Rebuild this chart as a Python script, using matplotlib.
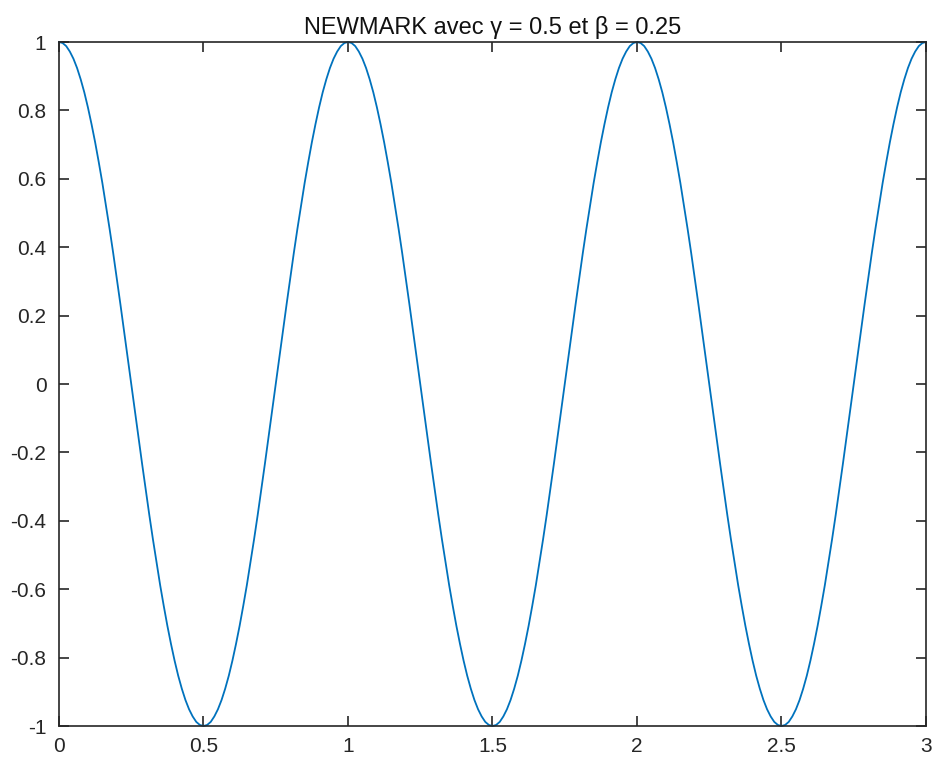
import matplotlib
matplotlib.use("Agg")
import matplotlib.pyplot as plt
import numpy as np

plt.rcParams['font.family'] = ['Liberation Sans', 'DejaVu Sans']

dt = 0.0125
u = [
    1.000, 0.997, 0.988, 0.972, 0.951, 0.924, 0.891, 0.853, 0.809, 0.760,
    0.707, 0.649, 0.588, 0.522, 0.454, 0.383, 0.309, 0.233, 0.156, 0.078,
    0.000, -0.078, -0.156, -0.233, -0.309, -0.383, -0.454, -0.522, -0.588, -0.649,
    -0.707, -0.760, -0.809, -0.853, -0.891, -0.924, -0.951, -0.972, -0.988, -0.997,
    -1.000, -0.997, -0.988, -0.972, -0.951, -0.924, -0.891, -0.853, -0.809, -0.760,
    -0.707, -0.649, -0.588, -0.522, -0.454, -0.383, -0.309, -0.233, -0.156, -0.078,
    0.000, 0.078, 0.156, 0.233, 0.309, 0.383, 0.454, 0.522, 0.588, 0.649,
    0.707, 0.760, 0.809, 0.853, 0.891, 0.924, 0.951, 0.972, 0.988, 0.997,
    1.000, 0.997, 0.988, 0.972, 0.951, 0.924, 0.891, 0.853, 0.809, 0.760,
    0.707, 0.649, 0.588, 0.522, 0.454, 0.383, 0.309, 0.233, 0.156, 0.078,
    0.000, -0.078, -0.156, -0.233, -0.309, -0.383, -0.454, -0.522, -0.588, -0.649,
    -0.707, -0.760, -0.809, -0.853, -0.891, -0.924, -0.951, -0.972, -0.988, -0.997,
    -1.000, -0.997, -0.988, -0.972, -0.951, -0.924, -0.891, -0.853, -0.809, -0.760,
    -0.707, -0.649, -0.588, -0.522, -0.454, -0.383, -0.309, -0.233, -0.156, -0.078,
    0.000, 0.078, 0.156, 0.233, 0.309, 0.383, 0.454, 0.522, 0.588, 0.649,
    0.707, 0.760, 0.809, 0.853, 0.891, 0.924, 0.951, 0.972, 0.988, 0.997,
    1.000, 0.997, 0.988, 0.972, 0.951, 0.924, 0.891, 0.853, 0.809, 0.760,
    0.707, 0.649, 0.588, 0.522, 0.454, 0.383, 0.309, 0.233, 0.156, 0.078,
    0.000, -0.078, -0.156, -0.233, -0.309, -0.383, -0.454, -0.522, -0.588, -0.649,
    -0.707, -0.760, -0.809, -0.853, -0.891, -0.924, -0.951, -0.972, -0.988, -0.997,
    -1.000, -0.997, -0.988, -0.972, -0.951, -0.924, -0.891, -0.853, -0.809, -0.760,
    -0.707, -0.649, -0.588, -0.522, -0.454, -0.383, -0.309, -0.233, -0.156, -0.078,
    0.000, 0.078, 0.156, 0.233, 0.309, 0.383, 0.454, 0.522, 0.588, 0.649,
    0.707, 0.760, 0.809, 0.853, 0.891, 0.924, 0.951, 0.972, 0.988, 0.997,
    1.000,
]
t = np.arange(len(u)) * dt

xticks = [0, 0.5, 1, 1.5, 2, 2.5, 3]
xlabels = ['0', '0.5', '1', '1.5', '2', '2.5', '3']
yticks = [-1, -0.8, -0.6, -0.4, -0.2, 0, 0.2, 0.4, 0.6, 0.8, 1]
ylabels = ['-1', '-0.8', '-0.6', '-0.4', '-0.2', '0', '0.2', '0.4', '0.6', '0.8', '1']
title = 'NEWMARK avec γ = 0.5 et β = 0.25'

fig = plt.figure(figsize=(9.37, 7.63), dpi=100)
ax = fig.add_axes([59 / 937, 1 - 726 / 763, 867 / 937, 684 / 763])

ax.plot(t, u, color='#0072BD', lw=1.3, clip_on=False)

ax.set_xlim(0, 3)
ax.set_ylim(-1, 1)
ax.set_xticks(xticks)
ax.set_xticklabels(xlabels)
ax.set_yticks(yticks)
ax.set_yticklabels(ylabels)
ax.tick_params(direction='in', top=True, right=True, length=7, width=1.2,
               colors='#262626', labelsize=15)
ax.tick_params(axis='y', pad=9)
ax.tick_params(axis='x', pad=8)
for s in ax.spines.values():
    s.set_color('#262626')
    s.set_linewidth(1.2)

ax.set_title(title, fontsize=17, color='#111111', pad=6)

fig.savefig('out.png', dpi=100)
